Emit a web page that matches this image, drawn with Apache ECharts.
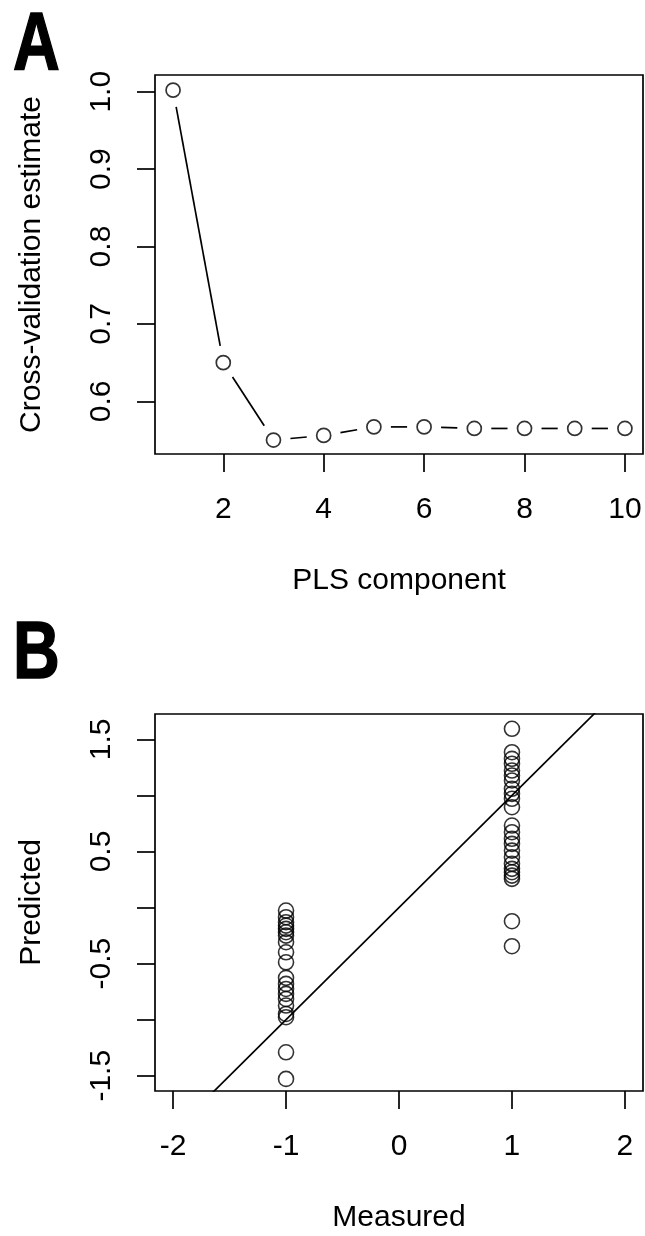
<!DOCTYPE html>
<html><head><meta charset="utf-8">
<script src="https://cdn.jsdelivr.net/npm/echarts@6/dist/echarts.min.js"></script>
<style>html,body{margin:0;padding:0;background:#fff}#c{width:645px;height:1236px}</style>
</head><body><div id="c"></div>
<script>
// ---- Panel A data ----
const plsComponents = [1, 2, 3, 4, 5, 6, 7, 8, 9, 10];
const cvEstimate = [1.002, 0.650, 0.550, 0.556, 0.567, 0.567, 0.565, 0.565, 0.565, 0.565];
const xTicksA = [2, 4, 6, 8, 10];
const yTicksA = [0.6, 0.7, 0.8, 0.9, 1.0];

// ---- Panel B data ----
const predictedMeasuredMinus1 = [-0.027, -0.086, -0.131, -0.161, -0.190, -0.220, -0.250, -0.309, -0.399, -0.488,
  -0.627, -0.681, -0.726, -0.770, -0.815, -0.874, -0.949, -0.978, -1.291, -1.528];
const predictedMeasuredPlus1 = [1.594, 1.385, 1.326, 1.282, 1.222, 1.178, 1.133, 1.059, 1.014, 0.970, 0.895,
  0.731, 0.672, 0.613, 0.568, 0.508, 0.449, 0.390, 0.345, 0.315, 0.285, 0.256, -0.122, -0.345];
const xTicksB = [-2, -1, 0, 1, 2];
const yTicksB = [-1.5, -1, -0.5, 0, 0.5, 1, 1.5];
const yLabelsB = [-1.5, -0.5, 0.5, 1.5];
const identityLine = [[-2.3, -2.3], [2.3, 2.3]];

const FONT = '"Liberation Sans", Arial, sans-serif';
const BLACK = '#000';

const pointsA = plsComponents.map((x, i) => [x, cvEstimate[i]]);
const segA = [];
for (let i = 0; i < plsComponents.length - 1; i++) {
  segA.push([plsComponents[i], cvEstimate[i], plsComponents[i + 1], cvEstimate[i + 1]]);
}
const pointsB = predictedMeasuredMinus1.map(v => [-1, v]).concat(predictedMeasuredPlus1.map(v => [1, v]));

const GAP = 17;
function renderSeg(params, api) {
  const p0 = api.coord([api.value(0), api.value(1)]);
  const p1 = api.coord([api.value(2), api.value(3)]);
  const dx = p1[0] - p0[0], dy = p1[1] - p0[1];
  const len = Math.sqrt(dx * dx + dy * dy);
  if (len <= 2 * GAP) return null;
  const ux = dx / len, uy = dy / len;
  return {
    type: 'line',
    shape: { x1: p0[0] + ux * GAP, y1: p0[1] + uy * GAP, x2: p1[0] - ux * GAP, y2: p1[1] - uy * GAP },
    style: { stroke: BLACK, lineWidth: 1.7 }
  };
}

function xAxisCfg(grid, min, max, ticks, name) {
  return {
    type: 'value', gridIndex: grid, min: min, max: max,
    axisLine: { show: false, onZero: false }, splitLine: { show: false },
    axisTick: { show: true, length: 18, customValues: ticks, lineStyle: { color: BLACK, width: 1.7 } },
    axisLabel: { customValues: ticks, margin: 41, color: BLACK, fontSize: 30, fontFamily: FONT, formatter: v => String(v) },
    name: name, nameLocation: 'middle', nameGap: 112,
    nameTextStyle: { color: BLACK, fontSize: 30, fontFamily: FONT }
  };
}
function yAxisCfg(grid, min, max, ticks, labels, fmt, name) {
  return {
    type: 'value', gridIndex: grid, min: min, max: max,
    axisLine: { show: false, onZero: false }, splitLine: { show: false },
    axisTick: { show: true, length: 18, customValues: ticks, lineStyle: { color: BLACK, width: 1.7 } },
    axisLabel: { customValues: labels, rotate: 90, margin: 38, color: BLACK, fontSize: 30, fontFamily: FONT, formatter: fmt },
    name: name, nameLocation: 'middle', nameGap: 108, nameRotate: 90,
    nameTextStyle: { color: BLACK, fontSize: 30, fontFamily: FONT }
  };
}

function panelLetter(ch, x, y) {
  return {
    type: 'text', x: x, y: y, scaleX: 0.8, scaleY: 1,
    style: { text: ch, x: 0, y: 0, fill: BLACK, stroke: BLACK, lineWidth: 1.5,
      font: 'bold 81px "Liberation Sans", Arial, sans-serif',
      textAlign: 'left', textVerticalAlign: 'middle' }
  };
}

const chart = echarts.init(document.getElementById('c'), null, { renderer: 'canvas' });
chart.setOption({
  backgroundColor: '#fff',
  animation: false,
  graphic: [panelLetter('A', 13, 47), panelLetter('B', 13, 656)],
  grid: [
    { left: 155, top: 75, width: 488, height: 379, show: true, borderColor: BLACK, borderWidth: 1.7, backgroundColor: 'transparent' },
    { left: 155, top: 714, width: 488, height: 377, show: true, borderColor: BLACK, borderWidth: 1.7, backgroundColor: 'transparent' }
  ],
  xAxis: [
    xAxisCfg(0, 0.64, 10.36, xTicksA, 'PLS component'),
    xAxisCfg(1, -2.16, 2.16, xTicksB, 'Measured')
  ],
  yAxis: [
    yAxisCfg(0, 0.532, 1.0216, yTicksA, yTicksA, v => v.toFixed(1), 'Cross-validation estimate'),
    yAxisCfg(1, -1.636, 1.726, yTicksB, yLabelsB, v => String(v), 'Predicted')
  ],
  series: [
    { type: 'custom', xAxisIndex: 0, yAxisIndex: 0, data: segA, renderItem: renderSeg, silent: true },
    { type: 'scatter', xAxisIndex: 0, yAxisIndex: 0, data: pointsA, symbol: 'circle', symbolSize: 14,
      itemStyle: { color: 'rgba(0,0,0,0)', borderColor: BLACK, borderWidth: 1.7 } },
    { type: 'line', xAxisIndex: 1, yAxisIndex: 1, data: identityLine, symbol: 'none', clip: true,
      lineStyle: { color: BLACK, width: 1.7 } },
    { type: 'scatter', xAxisIndex: 1, yAxisIndex: 1, data: pointsB, symbol: 'circle', symbolSize: 15,
      itemStyle: { color: 'rgba(0,0,0,0)', borderColor: BLACK, borderWidth: 1.6 } }
  ]
});
</script></body></html>
